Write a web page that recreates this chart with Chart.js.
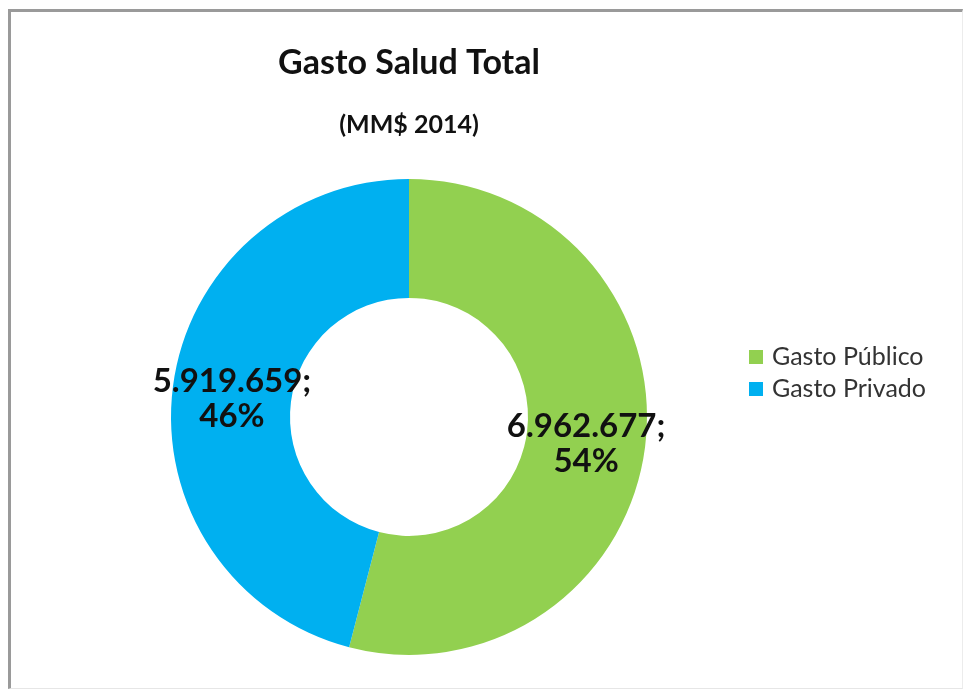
<!DOCTYPE html>
<html lang="es">
<head>
<meta charset="utf-8">
<title>Gasto Salud Total</title>
<script src="https://cdn.jsdelivr.net/npm/chart.js@4.4.1/dist/chart.umd.min.js"></script>
<style>
  html, body { margin: 0; padding: 0; background: #fff; }
  #wrap { position: relative; width: 964px; height: 690px; }
  #frame {
    position: absolute; left: 8px; top: 9px; width: 951px; height: 676px;
    border-left: 3px solid #9a9a9a; border-top: 3px solid #9a9a9a;
    border-right: 1px solid #ececec; border-bottom: 1px solid #e6e6e6;
  }
  #chart1 { position: absolute; left: 0; top: 0; }
  #leyenda { position: absolute; left: 749px; top: 339px; font-family: Lato, sans-serif; font-size: 25px; color: #333; }
  #leyenda div { height: 32px; line-height: 32px; white-space: nowrap; }
  #leyenda span.caja { display: inline-block; width: 14px; height: 14px; margin-right: 9px; vertical-align: 1px; }
</style>
</head>
<body>
<div id="wrap">
  <div id="frame"></div>
  <canvas id="chart1" width="964" height="690"></canvas>
  <div id="leyenda"></div>
</div>
<script>
// Datos del gasto en salud (MM$ 2014)
var categorias = ['Gasto Público', 'Gasto Privado'];
var gastos = [6962677, 5919659];
var colores = ['#92D050', '#00B0F0'];

function miles(n) {
  return String(n).replace(/\B(?=(\d{3})+(?!\d))/g, '.');
}

// Etiquetas "valor; porcentaje" sobre cada sector
var etiquetas = {
  id: 'etiquetas',
  afterDatasetsDraw: function (chart) {
    var ctx = chart.ctx;
    var valores = chart.data.datasets[0].data;
    var total = valores.reduce(function (a, b) { return a + b; }, 0);
    var arcos = chart.getDatasetMeta(0).data;
    ctx.save();
    ctx.font = 'bold 33px Lato, sans-serif';
    ctx.fillStyle = '#111';
    ctx.textAlign = 'center';
    ctx.textBaseline = 'middle';
    arcos.forEach(function (arco, i) {
      var p = arco.tooltipPosition();
      var pct = Math.round(valores[i] / total * 100) + '%';
      ctx.fillText(miles(valores[i]) + ';', p.x, p.y - 13);
      ctx.fillText(pct, p.x, p.y + 22);
    });
    ctx.restore();
  }
};

var ctx1 = document.getElementById('chart1').getContext('2d');
var chart1 = new Chart(ctx1, {
  type: 'doughnut',
  data: {
    labels: categorias,
    datasets: [{
      data: gastos,
      backgroundColor: colores,
      borderWidth: 0
    }]
  },
  options: {
    responsive: false,
    animation: false,
    cutout: '50%',
    layout: {
      padding: { left: 171, right: 317, top: 0, bottom: 35 }
    },
    plugins: {
      legend: { display: false },
      tooltip: { enabled: false },
      title: {
        display: true,
        text: 'Gasto Salud Total',
        color: '#111',
        font: { family: 'Lato, sans-serif', size: 34, weight: 'bold' },
        padding: { top: 43, bottom: 8 }
      },
      subtitle: {
        display: true,
        text: '(MM$ 2014)',
        color: '#111',
        font: { family: 'Lato, sans-serif', size: 25, weight: 'bold' },
        padding: { top: 18, bottom: 39 }
      }
    }
  },
  plugins: [etiquetas]
});

// Leyenda a la derecha
var leyenda = document.getElementById('leyenda');
var html = '';
categorias.forEach(function (c, i) {
  html += '<div><span class="caja" style="background:' + colores[i] + '"></span>' + c + '</div>';
});
leyenda.innerHTML = html;
</script>
</body>
</html>
